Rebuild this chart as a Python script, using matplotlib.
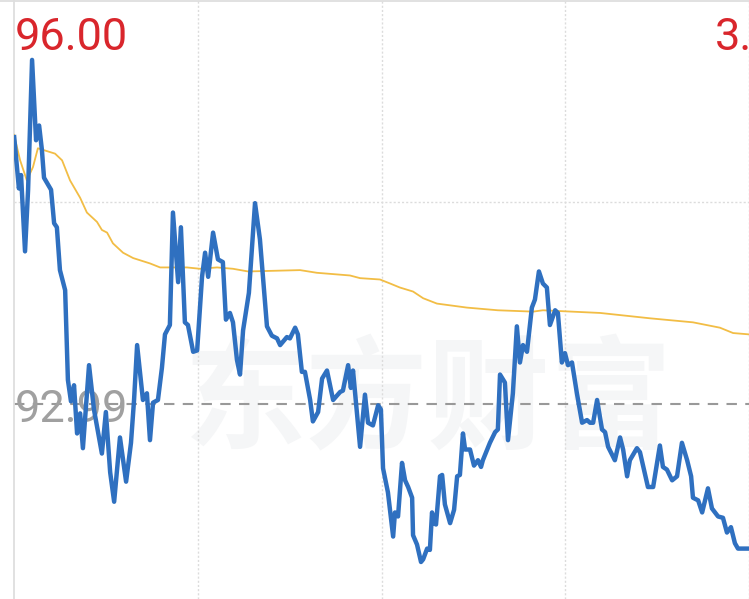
import matplotlib
matplotlib.use("Agg")
import matplotlib.pyplot as plt

# ---- data (minutes since open, price) ----
price_t = [0.0, 1.6, 2.3, 3.6, 4.6, 5.9, 7.2, 8.2, 9.1, 9.8, 11.1, 12.1, 13.1, 14.0, 15.0, 16.7,
           17.6, 18.6, 19.6, 20.6, 21.6, 22.5, 24.5, 26.1, 28.7, 30.0, 31.4, 32.7, 34.6, 36.6,
           38.2, 39.2, 40.2, 42.1, 43.4, 44.4, 45.4, 47.0, 48.3, 49.3, 50.9, 51.9, 53.6, 54.5,
           55.8, 56.8, 58.5, 59.8, 61.4, 62.4, 63.4, 65.0, 66.6, 68.2, 69.2, 70.5, 71.5, 72.8,
           73.8, 74.8, 76.7, 78.7, 80.3, 82.6, 84.2, 85.9, 86.9, 89.1, 90.1, 91.8, 92.7, 94.0,
           95.0, 96.7, 97.6, 99.3, 100.6, 102.2, 104.2, 106.5, 107.4, 109.1, 110.0, 110.7, 113.0,
           114.6, 115.6, 117.2, 118.9, 119.8, 120.5, 122.1, 123.8, 124.4, 125.4, 126.7, 127.7,
           128.7, 130.0, 130.3, 131.6, 132.9, 133.6, 134.9, 135.8, 136.5, 137.1, 137.8, 139.1,
           139.8, 140.7, 142.4, 143.7, 144.7, 145.6, 146.6, 147.3, 148.9, 150.2, 151.5, 152.5,
           153.1, 155.4, 157.1, 158.0, 158.7, 160.3, 161.3, 162.9, 164.2, 165.2, 166.2, 167.5,
           169.1, 170.1, 171.4, 172.7, 174.0, 175.0, 176.7, 177.6, 178.9, 179.9, 180.9, 182.2,
           183.8, 185.5, 187.1, 188.1, 189.1, 190.4, 192.0, 193.0, 194.0, 196.2, 197.9, 198.9,
           200.2, 201.1, 203.4, 204.4, 207.0, 208.7, 210.9, 211.9, 213.2, 214.9, 216.5, 218.1,
           219.8, 221.1, 221.7, 223.4, 224.7, 226.6, 227.9, 229.9, 231.5, 232.8, 234.1, 235.4,
           236.4, 240.0]
price = [95.00, 94.60, 94.70, 94.13, 94.59, 95.56, 94.96, 95.07, 94.89, 94.68, 94.63, 94.59,
         94.34, 94.31, 93.99, 93.84, 93.17, 93.01, 93.13, 92.77, 92.92, 92.66, 93.28, 92.95,
         92.62, 92.93, 92.48, 92.26, 92.74, 92.41, 92.70, 93.02, 93.43, 93.02, 93.07, 92.72,
         93.00, 93.02, 93.26, 93.51, 93.58, 94.42, 93.90, 94.31, 93.60, 93.58, 93.38, 93.39,
         93.94, 94.12, 93.94, 94.27, 94.07, 94.05, 93.62, 93.67, 93.60, 93.32, 93.21, 93.54,
         93.82, 94.49, 94.22, 93.57, 93.50, 93.48, 93.43, 93.49, 93.48, 93.56, 93.51, 93.23,
         93.23, 93.02, 92.86, 92.93, 93.18, 93.24, 93.02, 93.08, 93.09, 93.28, 93.11, 93.24,
         92.67, 93.06, 92.85, 92.83, 92.98, 92.95, 92.51, 92.33, 92.00, 92.18, 92.15, 92.55,
         92.42, 92.37, 92.29, 92.01, 91.94, 91.81, 91.83, 91.91, 91.90, 92.18, 92.10, 92.09,
         92.45, 92.46, 92.24, 92.10, 92.20, 92.45, 92.46, 92.77, 92.65, 92.65, 92.53, 92.57,
         92.52, 92.57, 92.70, 92.78, 92.80, 93.21, 93.15, 92.72, 93.07, 93.57, 93.30, 93.43,
         93.38, 93.71, 93.77, 93.98, 93.89, 93.86, 93.58, 93.69, 93.67, 93.30, 93.37, 93.28,
         93.30, 93.07, 92.85, 92.87, 92.85, 92.85, 93.02, 92.80, 92.78, 92.67, 92.57, 92.74,
         92.65, 92.45, 92.57, 92.66, 92.63, 92.37, 92.37, 92.68, 92.52, 92.50, 92.42, 92.45,
         92.70, 92.57, 92.45, 92.29, 92.27, 92.18, 92.36, 92.21, 92.15, 92.14, 92.03, 92.07,
         91.95, 91.91, 91.91]

avg_t = [0.0, 2.0, 4.2, 6.2, 7.8, 13.4, 15.7, 18.3, 21.6, 23.8, 27.1, 28.7, 30.4, 32.3, 35.6,
         38.9, 44.4, 47.7, 50.0, 56.5, 60.7, 66.3, 71.5, 76.4, 93.4, 98.9, 109.7, 113.0, 119.5,
         122.8, 126.0, 130.3, 133.6, 138.1, 147.9, 158.0, 169.5, 172.7, 191.4, 207.7, 221.7,
         230.5, 234.8, 240.0]
avg = [95.00, 94.81, 94.66, 94.76, 94.90, 94.86, 94.81, 94.66, 94.53, 94.42, 94.35, 94.29,
       94.27, 94.19, 94.12, 94.08, 94.04, 94.01, 94.01, 94.01, 94.00, 94.01, 94.00, 93.98,
       93.99, 93.97, 93.95, 93.93, 93.92, 93.89, 93.86, 93.83, 93.78, 93.74, 93.71, 93.69,
       93.68, 93.69, 93.67, 93.63, 93.60, 93.56, 93.52, 93.51]

prev_close = 92.99
top_price = 96.00
top_label = "96.00"
pct_label = "3.24%"
ref_label = "92.99"
watermark = "东方财富"

W, H = 749, 599
fig = plt.figure(figsize=(W / 100, H / 100), dpi=100)
fig.patch.set_facecolor("white")

left_px, top_px = 14, 1
ax = fig.add_axes([left_px / W, 0, 1 - left_px / W, (H - top_px) / H])
px_per_unit = (404 - top_px) / (top_price - prev_close)
ax.set_xlim(0, 240)
ax.set_ylim(top_price - (H - top_px) / px_per_unit, top_price)
ax.set_facecolor("none")
for s in ["right", "bottom", "top"]:
    ax.spines[s].set_visible(False)
ax.spines["left"].set_color("#dedede")
ax.spines["left"].set_linewidth(1.3)
ax.set_xticks([])
ax.set_yticks([])

# top border across full width
fig.add_artist(plt.Line2D([0, 1], [1 - top_px / H, 1 - top_px / H], transform=fig.transFigure,
                          color="#dedede", lw=1.3))

ft = fig.transFigure
# watermark (behind everything in the axes)
ax.text(428 / W, 1 - 403 / H, watermark, transform=ft, ha="center", va="center", fontsize=88,
        family=["Noto Sans CJK SC", "DejaVu Sans"], weight="bold", color="#f5f6f7", zorder=0,
        clip_on=False)

# grid
for t in [60, 120, 180, 240]:
    ax.axvline(t, color="#dcdcdc", lw=1.0, ls=(0, (1.5, 1.5)), zorder=1)
mid = (top_price + prev_close) / 2
ax.axhline(mid, color="#dcdcdc", lw=1.0, ls=(0, (1.5, 1.5)), zorder=1)

# reference dashed line
ax.axhline(prev_close, color="#999999", lw=1.5, ls=(0, (5, 4)), zorder=2)

# labels
ax.text(15 / W, 1 - 50 / H, top_label, transform=ft, ha="left", va="baseline", fontsize=32.5,
        family="Roboto", color="#d9262c", zorder=5, clip_on=False)
ax.text(715 / W, 1 - 50 / H, pct_label, transform=ft, ha="left", va="baseline", fontsize=32.5,
        family="Roboto", color="#d9262c", zorder=5, clip_on=False)
ax.text(15 / W, 1 - 422 / H, ref_label, transform=ft, ha="left", va="baseline", fontsize=32.5,
        family="Roboto", color="#a0a0a0", zorder=2.5, clip_on=False)

# series
ax.plot(avg_t, avg, color="#f2bd45", lw=1.3, zorder=3, solid_joinstyle="round")
ax.plot(price_t, price, color="#2f70c0", lw=3.2, zorder=4, solid_joinstyle="round",
        solid_capstyle="butt")

fig.savefig("out.png", dpi=100, facecolor="white")
